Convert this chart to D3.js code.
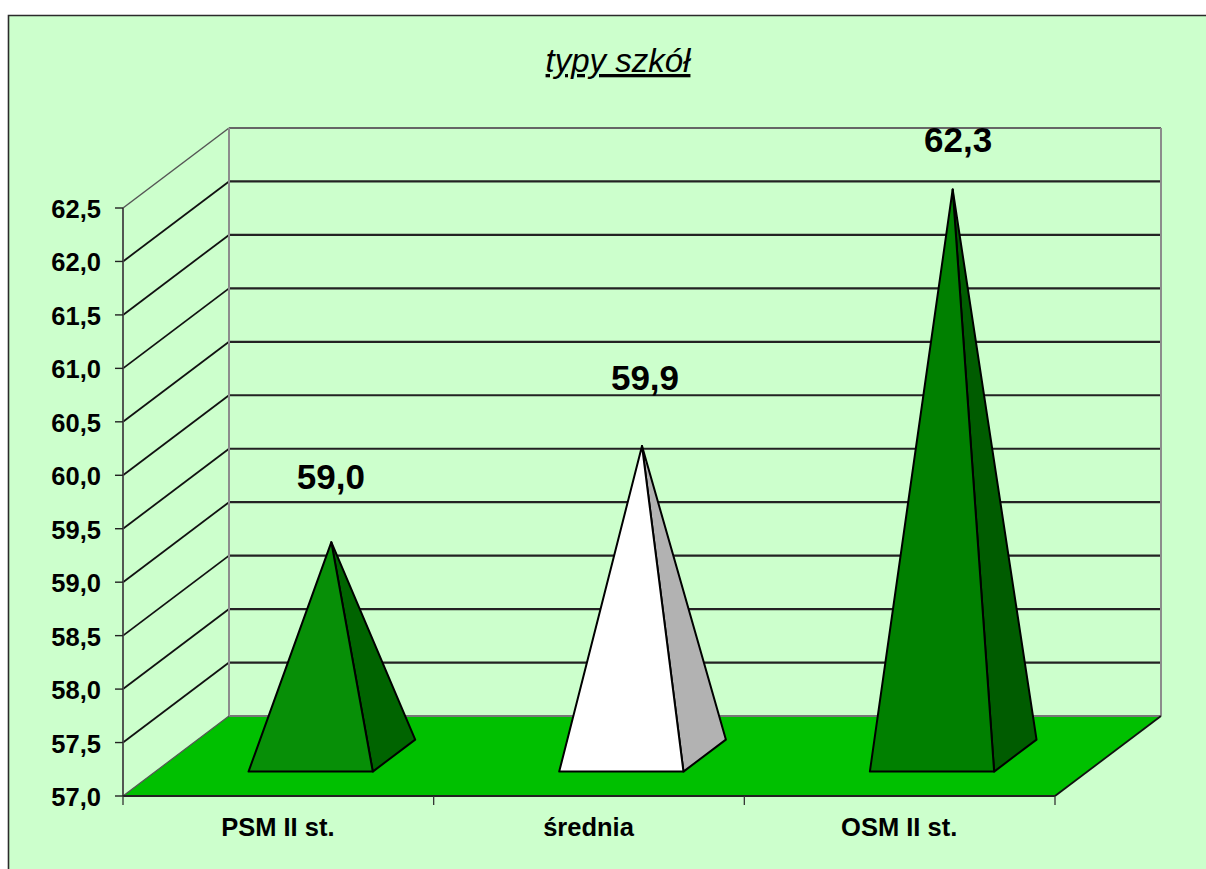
<!DOCTYPE html>
<html>
<head>
<meta charset="utf-8">
<script src="https://cdn.jsdelivr.net/npm/d3@7"></script>
<style>
  html, body { margin: 0; padding: 0; background: #fff; overflow: hidden; }
  text { font-family: "Liberation Sans", Arial, sans-serif; fill: #000; }
</style>
</head>
<body>
<div id="chart"></div>
<script>
const categories = ['PSM II st.', 'średnia', 'OSM II st.'];
const values = [59.0, 59.9, 62.3];
const valueLabels = ['59,0', '59,9', '62,3'];
const yTicks = [57.0, 57.5, 58.0, 58.5, 59.0, 59.5, 60.0, 60.5, 61.0, 61.5, 62.0, 62.5];
const frontFill = ['#078f07', '#ffffff', '#008000'];
const sideFill = ['#006400', '#b2b2b2', '#005c00'];

const width = 1206;
const height = 869;

// the 3d look: back wall is the front plane shifted by depthX, depthY
const depthX = 106;
const depthY = -80;
// pyramid base sits between these fractions of the floor depth
const baseFront = 0.305;
const baseBack = 0.705;
const barShare = 0.4;

// value labels were placed by hand in the original, so offset from the apex
const labelShiftX = [-0.5, 3, 5.5];
const labelShiftY = [-53, -56, -37];

const y = d3.scaleLinear().domain([57, 62.5]).range([796, 208]);
const x = d3.scaleBand().domain(categories).range([123, 1055]);

const comma = d3.format('.1f');

const svg = d3.select('#chart').append('svg')
  .attr('width', width)
  .attr('height', height)
  .style('display', 'block');

// chart area with only the left and top edge visible
svg.append('rect')
  .attr('x', 9).attr('y', 16)
  .attr('width', width - 9).attr('height', height - 16)
  .attr('fill', '#ccffcc');
svg.append('path')
  .attr('d', `M8.5,${height}V15.5H${width}`)
  .attr('fill', 'none')
  .attr('stroke', '#2b2b2b')
  .attr('stroke-width', 1.6);

const x0 = x.range()[0];
const x1 = x.range()[1];
const yBase = y(57);
const yTop = y(62.5);

// floor
svg.append('path')
  .attr('d', `M${x0},${yBase}L${x1},${yBase}L${x1 + depthX},${yBase + depthY}L${x0 + depthX},${yBase + depthY}Z`)
  .attr('fill', '#00c000');

// side and back gridlines
const grid = svg.append('g');
yTicks.forEach(function(t) {
  const first = t === 57;
  const last = t === 62.5;
  if (!first) {
    grid.append('line')
      .attr('x1', x0).attr('y1', y(t))
      .attr('x2', x0 + depthX).attr('y2', y(t) + depthY)
      .attr('stroke', last ? '#555' : '#111')
      .attr('stroke-width', last ? 1.5 : 1.8);
  }
  grid.append('line')
    .attr('x1', x0 + depthX).attr('y1', y(t) + depthY)
    .attr('x2', x1 + depthX).attr('y2', y(t) + depthY)
    .attr('stroke', first ? '#777' : (last ? '#666' : '#222'))
    .attr('stroke-width', 2.2);
});

// back wall edges
grid.append('line')
  .attr('x1', x0 + depthX).attr('y1', yTop + depthY)
  .attr('x2', x0 + depthX).attr('y2', yBase + depthY)
  .attr('stroke', '#8c8c8c').attr('stroke-width', 2);
grid.append('line')
  .attr('x1', x1 + depthX).attr('y1', yTop + depthY)
  .attr('x2', x1 + depthX).attr('y2', yBase + depthY)
  .attr('stroke', '#8c8c8c').attr('stroke-width', 2);

// floor edges
grid.append('line')
  .attr('x1', x0).attr('y1', yBase)
  .attr('x2', x0 + depthX).attr('y2', yBase + depthY)
  .attr('stroke', '#555').attr('stroke-width', 1.2);
grid.append('line')
  .attr('x1', x1).attr('y1', yBase)
  .attr('x2', x1 + depthX).attr('y2', yBase + depthY)
  .attr('stroke', '#111').attr('stroke-width', 1.8);

// y axis
const yAxis = svg.append('g');
yAxis.append('line')
  .attr('x1', x0).attr('y1', yTop)
  .attr('x2', x0).attr('y2', yBase)
  .attr('stroke', '#444').attr('stroke-width', 1.8);
yTicks.forEach(function(t) {
  yAxis.append('line')
    .attr('x1', x0 - 8).attr('y1', y(t))
    .attr('x2', x0).attr('y2', y(t))
    .attr('stroke', '#222').attr('stroke-width', 1.4);
  yAxis.append('text')
    .attr('x', 101).attr('y', y(t) + 10)
    .attr('text-anchor', 'end')
    .attr('font-size', 25.5)
    .attr('font-weight', 'bold')
    .text(comma(t).replace('.', ','));
});

// x axis
const xAxis = svg.append('g');
xAxis.append('line')
  .attr('x1', x0).attr('y1', yBase)
  .attr('x2', x1).attr('y2', yBase)
  .attr('stroke', '#222').attr('stroke-width', 2.2);
const xTicks = categories.map(c => x(c)).concat([x1]);
xTicks.forEach(function(t) {
  xAxis.append('line')
    .attr('x1', t).attr('y1', yBase)
    .attr('x2', t).attr('y2', yBase + 9)
    .attr('stroke', '#333').attr('stroke-width', 1.3);
});
xAxis.selectAll('text')
  .data(categories)
  .enter()
  .append('text')
  .attr('x', d => x(d) + x.bandwidth() / 2 - 0.5)
  .attr('y', 836)
  .attr('text-anchor', 'middle')
  .attr('font-size', 25.5)
  .attr('font-weight', 'bold')
  .text(d => d);

// pyramids
const bars = svg.selectAll('.pyramid')
  .data(categories)
  .enter()
  .append('g')
  .attr('class', 'pyramid');

function pyramidPoints(c, i) {
  const w = x.bandwidth() * barShare;
  const cx = x(c) + x.bandwidth() / 2;
  const left = cx - w / 2;
  const right = cx + w / 2;
  return {
    fl: [left + depthX * baseFront, yBase + depthY * baseFront],
    fr: [right + depthX * baseFront, yBase + depthY * baseFront],
    br: [right + depthX * baseBack, yBase + depthY * baseBack],
    apex: [cx + depthX * 0.5, y(values[i]) + depthY * 0.5]
  };
}

const line = d3.line();

bars.append('path')
  .attr('d', (c, i) => { const p = pyramidPoints(c, i); return line([p.fr, p.br, p.apex]) + 'Z'; })
  .attr('fill', (c, i) => sideFill[i])
  .attr('stroke', '#000')
  .attr('stroke-width', 2)
  .attr('stroke-linejoin', 'round');

bars.append('path')
  .attr('d', (c, i) => { const p = pyramidPoints(c, i); return line([p.fl, p.fr, p.apex]) + 'Z'; })
  .attr('fill', (c, i) => frontFill[i])
  .attr('stroke', '#000')
  .attr('stroke-width', 2)
  .attr('stroke-linejoin', 'round');

// value labels
bars.append('text')
  .attr('x', (c, i) => pyramidPoints(c, i).apex[0] + labelShiftX[i])
  .attr('y', (c, i) => pyramidPoints(c, i).apex[1] + labelShiftY[i])
  .attr('text-anchor', 'middle')
  .attr('font-size', 35)
  .attr('font-weight', 'bold')
  .text((c, i) => valueLabels[i]);

// title
svg.append('text')
  .attr('x', 618)
  .attr('y', 72)
  .attr('text-anchor', 'middle')
  .attr('font-size', 33)
  .attr('font-style', 'italic')
  .style('text-decoration', 'underline')
  .style('text-decoration-thickness', '3px')
  .style('text-underline-offset', '3px')
  .text('typy szkół');
</script>
</body>
</html>
